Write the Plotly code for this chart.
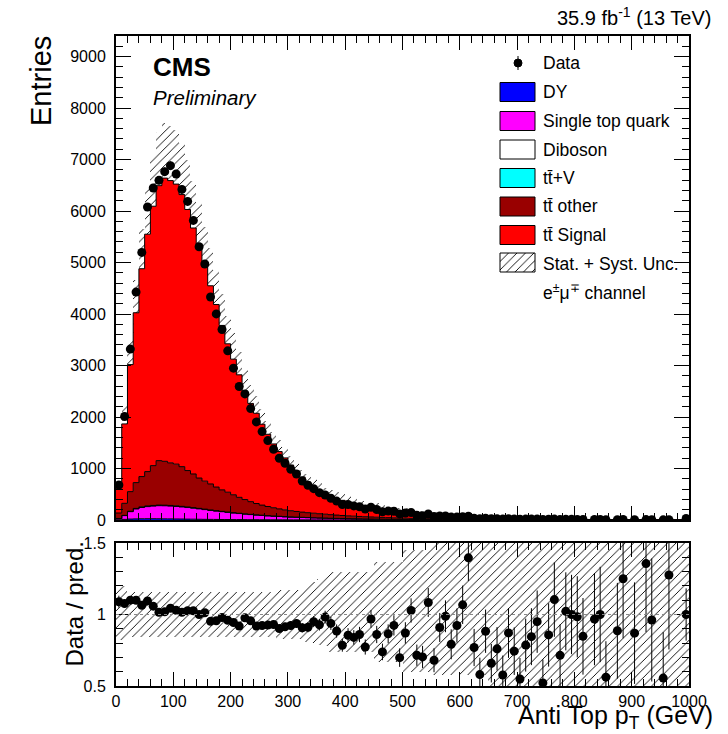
import numpy as np
import plotly.graph_objects as go

# ---------------- data (10 GeV bins, 0-1000 GeV) ----------------
bin_edges = np.arange(0, 1010, 10)

data = [680, 2010, 3320, 4427, 5197, 6078, 6448, 6597, 6765, 6882,
        6720, 6421, 6188, 5818, 5307, 4971, 4332, 4002, 3700, 3285,
        2949, 2592, 2449, 2164, 1905, 1717, 1542, 1374, 1199, 1102,
        986, 894, 758, 674, 608, 531, 486, 422, 367, 300,
        301, 273, 258, 214, 248, 203, 161, 173, 170, 118,
        135, 146, 93, 83, 116, 66, 80, 79, 57, 60,
        63, 74, 35, 24, 34, 24, 25, 18, 25, 20,
        14, 18, 18, 19, 10, 15, 18, 11, 14, 13,
        12, 10, 0, 9, 9, 5, 0, 7, 9, 0,
        6, 0, 8, 5, 0, 3, 6, 0, 0, 30]

tt_signal = [488, 1542, 2467, 3299, 4037, 4611, 5038, 5340, 5500, 5482,
             5439, 5284, 5071, 4777, 4492, 4157, 3849, 3546, 3194, 2882,
             2634, 2380, 2110, 1908, 1753, 1571, 1403, 1239, 1113, 1009,
             888, 788, 683, 598, 508, 450, 382, 346.3, 319.6, 294.2,
             270.9, 250.2, 231.0, 213.3, 197.0, 181.8, 167.8, 154.0, 141.7, 130.1,
             119.3, 109.4, 100.1, 90.8, 82.4, 74.7, 67.7, 61.6, 55.4, 49.9,
             45.4, 40.7, 35.1, 31.9, 29.6, 28.2, 25.4, 24.1, 22.2, 20.7,
             19.6, 17.7, 16.4, 15.4, 14.7, 13.4, 12.6, 11.9, 10.6, 10.0,
             9.5, 9.2, 8.4, 7.3, 7.0, 6.9, 6.4, 6.2, 5.6, 5.3,
             5.3, 5.0, 4.6, 4.1, 3.9, 4.2, 3.7, 3.5, 3.3, 23.1]

tt_other = [106, 234, 381, 501, 588, 668, 773, 863, 852, 827,
            810, 771, 707, 654, 589, 544, 504, 458, 417, 385,
            347, 309, 277, 246, 219, 196, 177, 160, 144, 131,
            119, 110, 101, 94, 88, 81, 75, 69.8, 64.3, 59.2,
            54.6, 50.4, 46.5, 42.9, 39.7, 36.6, 33.8, 31.0, 28.5, 26.2,
            24.0, 22.0, 20.2, 18.3, 16.6, 15.0, 13.6, 12.4, 11.2, 10.1,
            9.1, 8.2, 7.1, 6.4, 6.0, 5.6, 5.1, 4.8, 4.4, 4.2,
            4.0, 3.5, 3.3, 3.1, 3.0, 2.7, 2.5, 2.4, 2.1, 2.0,
            1.9, 1.8, 1.7, 1.4, 1.4, 1.4, 1.3, 1.2, 1.1, 1.1,
            1.1, 1.0, 0.9, 0.8, 0.8, 0.8, 0.7, 0.7, 0.7, 4.7]

single_top = [23, 73, 144, 193, 220, 235, 246, 254, 253, 249,
              244, 235, 225, 214, 203, 189, 175, 163, 151, 139,
              128, 117, 107, 99, 90, 83, 76, 70, 64, 58,
              54, 50, 46, 43, 40, 37, 34, 30.2, 27.8, 25.6,
              23.6, 21.8, 20.1, 18.6, 17.2, 15.8, 14.6, 13.4, 12.3, 11.3,
              10.4, 9.5, 8.7, 7.9, 7.2, 6.5, 5.9, 5.4, 4.8, 4.4,
              4.0, 3.6, 3.0, 2.8, 2.6, 2.4, 2.2, 2.1, 1.9, 1.8,
              1.7, 1.5, 1.4, 1.3, 1.3, 1.2, 1.1, 1.0, 0.9, 0.9,
              0.8, 0.8, 0.7, 0.6, 0.6, 0.6, 0.6, 0.5, 0.5, 0.5,
              0.5, 0.4, 0.4, 0.3, 0.3, 0.4, 0.3, 0.3, 0.3, 2.0]

dy = [5, 12, 18, 22, 24, 25, 25, 24, 23, 22,
      20, 19, 17, 16, 14, 13, 12, 11, 10, 9,
      8, 8, 7, 6, 6, 5, 5, 4, 4, 4,
      3, 3, 3, 3, 2, 2, 2, 1.8, 1.7, 1.5,
      1.4, 1.3, 1.2, 1.1, 1.0, 0.9, 0.9, 0.8, 0.7, 0.7,
      0.6, 0.6, 0.5, 0.5, 0.4, 0.4, 0.4, 0.3, 0.3, 0.3,
      0.2, 0.2, 0.2, 0.2, 0.2, 0.1, 0.1, 0.1, 0.1, 0.1,
      0.1, 0.1, 0.1, 0.1, 0.1, 0.1, 0.1, 0.1, 0.1, 0.1,
      0, 0, 0, 0, 0, 0, 0, 0, 0, 0,
      0, 0, 0, 0, 0, 0, 0, 0, 0, 0.1]

diboson = [1, 3, 5, 6, 7, 7, 7, 7, 7, 7,
           6, 6, 6, 6, 5, 5, 5, 4, 4, 4,
           4, 3, 3, 3, 3, 3, 2, 2, 2, 2,
           2, 2, 2, 1, 1, 1, 1, 0.5, 0.4, 0.4,
           0.4, 0.3, 0.3, 0.3, 0.3, 0.2, 0.2, 0.2, 0.2, 0.2,
           0.2, 0.1, 0.1, 0.1, 0.1, 0.1, 0.1, 0.1, 0.1, 0.1,
           0.1, 0.1, 0, 0, 0, 0, 0, 0, 0, 0,
           0, 0, 0, 0, 0, 0, 0, 0, 0, 0,
           0, 0, 0, 0, 0, 0, 0, 0, 0, 0,
           0, 0, 0, 0, 0, 0, 0, 0, 0, 0]

ttv = [1, 2, 3, 4, 4, 5, 5, 5, 5, 5,
       5, 5, 5, 4, 4, 4, 4, 4, 3, 3,
       3, 3, 3, 2, 2, 2, 2, 2, 2, 2,
       2, 1, 1, 1, 1, 1, 1, 1.4, 1.2, 1.1,
       1.1, 1.0, 0.9, 0.8, 0.8, 0.7, 0.7, 0.6, 0.6, 0.5,
       0.5, 0.4, 0.4, 0.4, 0.3, 0.3, 0.3, 0.2, 0.2, 0.2,
       0.2, 0.2, 0.1, 0.1, 0.1, 0.1, 0.1, 0.1, 0.1, 0.1,
       0.1, 0.1, 0.1, 0.1, 0.1, 0.1, 0, 0, 0, 0,
       0, 0, 0, 0, 0, 0, 0, 0, 0, 0,
       0, 0, 0, 0, 0, 0, 0, 0, 0, 0.1]

# relative stat.+syst. uncertainty (up / down)
unc_up = ([0.20] * 2 + [0.16] * 8 + [0.16] * 18 + [0.17] * 5 +
          [0.21, 0.23, 0.25, 0.27] + [0.30] * 8 + [0.37] * 5 +
          [0.45] * 5 + [0.55] * 5 + [0.70] * 40)
unc_dn = ([0.18] * 2 + [0.155] * 8 + [0.16] * 18 + [0.17] * 5 +
          [0.19, 0.20, 0.21, 0.22] + [0.26] * 8 + [0.33] * 5 +
          [0.40] * 5 + [0.42] * 10 + [0.55] * 35)

x_ticks = [0, 100, 200, 300, 400, 500, 600, 700, 800, 900, 1000]

# ---------------- figure ----------------
W, H = 728, 734
FONT = "Liberation Sans, Arial, Helvetica, sans-serif"


def px(x):
    return x / W


def py(y):
    return 1 - y / H


centers = 0.5 * (bin_edges[:-1] + bin_edges[1:])
fig = go.Figure()

components = [(dy, "#0000ff"), (single_top, "#ff00ff"), (diboson, "#ffffff"),
              (ttv, "#00ffff"), (tt_other, "#990000"), (tt_signal, "#ff0000")]
cum = np.zeros(len(centers))
for i, (vals, col) in enumerate(components):
    cum = cum + np.array(vals, dtype=float)
    fig.add_trace(go.Scatter(
        x=bin_edges, y=np.append(cum, cum[-1]), mode="lines",
        line=dict(shape="hv", color="black", width=1),
        fill="tozeroy" if i == 0 else "tonexty", fillcolor=col,
        xaxis="x", yaxis="y", showlegend=False, hoverinfo="skip"))
total = cum
up = np.array(unc_up)
dn = np.array(unc_dn)

hatch = dict(color="rgba(0,0,0,0)", line=dict(width=0),
             pattern=dict(shape="/", fillmode="replace", fgcolor="black",
                          bgcolor="rgba(0,0,0,0)", size=6, solidity=0.15))

fig.add_trace(go.Bar(x=centers, y=total * (up + dn), base=total * (1 - dn), width=10,
                     marker=hatch, xaxis="x", yaxis="y", showlegend=False,
                     hoverinfo="skip"))

d = np.array(data, dtype=float)
mask = d > 0
fig.add_trace(go.Scatter(
    x=centers[mask], y=d[mask], mode="markers",
    marker=dict(color="black", size=9),
    error_y=dict(type="data", array=np.sqrt(d[mask]), color="black", thickness=1, width=0),
    xaxis="x", yaxis="y", showlegend=False, hoverinfo="skip"))

# ratio panel
fig.add_trace(go.Bar(x=centers, y=up + dn, base=1 - dn, width=10, marker=hatch,
                     xaxis="x2", yaxis="y2", showlegend=False, hoverinfo="skip"))
ratio = d[mask] / total[mask]
ratio_err = np.sqrt(d[mask]) / total[mask]
fig.add_trace(go.Scatter(
    x=centers[mask], y=ratio, mode="markers",
    marker=dict(color="black", size=9),
    error_y=dict(type="data", array=ratio_err, color="black", thickness=1, width=0),
    xaxis="x2", yaxis="y2", showlegend=False, hoverinfo="skip"))

# legend hatch swatch on hidden axis
fig.add_trace(go.Bar(x=[0], y=[1], width=[1], marker=hatch, xaxis="x3", yaxis="y3",
                     showlegend=False, hoverinfo="skip"))

xdom = [px(116), px(689)]
axis_common = dict(showline=True, linecolor="black", linewidth=2, mirror="allticks",
                   ticks="inside", tickcolor="black", tickwidth=1, showgrid=False,
                   zeroline=False, automargin=False,
                   tickfont=dict(family=FONT, size=16, color="black"))

fig.update_layout(
    width=W, height=H, margin=dict(l=0, r=0, t=0, b=0, pad=0), autosize=False,
    paper_bgcolor="white", plot_bgcolor="white", bargap=0, barmode="overlay",
    font=dict(family=FONT, color="black"),
    xaxis=dict(domain=xdom, range=[0, 1000], anchor="y", tickvals=x_ticks,
               showticklabels=False, ticklen=14,
               minor=dict(ticks="inside", ticklen=7, dtick=20, tickcolor="black", tickwidth=1),
               **axis_common),
    yaxis=dict(domain=[py(520), py(36)], range=[0, 9400], anchor="x", dtick=1000,
               ticklen=15, ticklabelstandoff=5,
               minor=dict(ticks="inside", ticklen=7, dtick=200, tickcolor="black", tickwidth=1),
               **axis_common),
    xaxis2=dict(domain=xdom, range=[0, 1000], anchor="y2", tickvals=x_ticks,
                ticklen=14, ticklabelstandoff=0,
                minor=dict(ticks="inside", ticklen=7, dtick=20, tickcolor="black", tickwidth=1),
                **axis_common),
    yaxis2=dict(domain=[py(686), py(543)], range=[0.5, 1.5], anchor="x2",
                tickvals=[0.5, 1, 1.5], ticktext=["0.5", "1", "1.5"], ticklen=15,
                ticklabelstandoff=5,
                minor=dict(ticks="inside", ticklen=7, dtick=0.1, tickcolor="black", tickwidth=1),
                **axis_common),
    xaxis3=dict(domain=[px(500), px(535)], range=[-0.5, 0.5], visible=False,
                anchor="y3", automargin=False),
    yaxis3=dict(domain=[py(272), py(253)], range=[0, 1], visible=False,
                anchor="x3", automargin=False),
)

shapes = [dict(type="line", xref="x2", yref="y2", x0=0, x1=1000, y0=1, y1=1,
               line=dict(color="#888888", width=1, dash="dot"))]

# legend swatches
leg_rows = [92, 121, 149.5, 178, 206.5, 235]
leg_cols = ["#0000ff", "#ff00ff", "#ffffff", "#00ffff", "#990000", "#ff0000"]
for yc, col in zip(leg_rows, leg_cols):
    shapes.append(dict(type="rect", xref="paper", yref="paper",
                       x0=px(500), x1=px(535), y0=py(yc + 9.5), y1=py(yc - 9.5),
                       fillcolor=col, line=dict(color="black", width=1)))
shapes.append(dict(type="rect", xref="paper", yref="paper",
                   x0=px(500), x1=px(535), y0=py(272), y1=py(253),
                   line=dict(color="black", width=1)))
shapes.append(dict(type="line", xref="paper", yref="paper",
                   x0=px(518), x1=px(518), y0=py(56), y1=py(70),
                   line=dict(color="black", width=1)))
shapes.append(dict(type="circle", xref="paper", yref="paper",
                   x0=px(514), x1=px(522), y0=py(67), y1=py(59),
                   fillcolor="black", line=dict(color="black", width=1)))
fig.update_layout(shapes=shapes)

ann = []
leg_texts = [(63, "Data"), (92, "DY"), (121, "Single top quark"), (149.5, "Diboson"),
             (178, "tt\u0304+V"), (206.5, "tt\u0304 other"), (235, "tt\u0304 Signal"),
             (263.5, "Stat. + Syst. Unc."), (292, "e<sup>\u00b1</sup>\u03bc<sup>\u2213</sup> channel")]
for yc, t in leg_texts:
    ann.append(dict(text=t, x=px(541), y=py(yc), xref="paper", yref="paper",
                    xanchor="left", yanchor="middle", showarrow=False,
                    font=dict(family=FONT, size=17.5, color="black")))

ann += [
    dict(text="<b>CMS</b>", x=px(151), y=py(67), xref="paper", yref="paper",
         xanchor="left", yanchor="middle", showarrow=False,
         font=dict(family=FONT, size=26, color="black")),
    dict(text="<i>Preliminary</i>", x=px(151), y=py(98), xref="paper", yref="paper",
         xanchor="left", yanchor="middle", showarrow=False,
         font=dict(family=FONT, size=20.5, color="black")),
    dict(text="35.9 fb<sup>-1</sup> (13 TeV)", x=px(713), y=py(17), xref="paper",
         yref="paper", xanchor="right", yanchor="middle", showarrow=False,
         font=dict(family=FONT, size=20, color="black")),
    dict(text="Entries", x=px(41), y=py(34), xref="paper", yref="paper", textangle=-90,
         xanchor="center", yanchor="top", showarrow=False,
         font=dict(family=FONT, size=29, color="black")),
    dict(text="Data / pred.", x=px(74), y=py(540), xref="paper", yref="paper",
         textangle=-90, xanchor="center", yanchor="top", showarrow=False,
         font=dict(family=FONT, size=24, color="black")),
    dict(text="Anti Top p<sub>T</sub> (GeV)", x=px(714), y=py(717), xref="paper",
         yref="paper", xanchor="right", yanchor="middle", showarrow=False,
         borderpad=0, font=dict(family=FONT, size=25, color="black")),
]
fig.update_layout(annotations=ann)

fig.write_html("out.html",
               post_script="document.body.style.margin='0';"
                           "document.body.style.padding='0';"
                           "document.documentElement.style.overflow='hidden';"
                           "document.body.style.overflow='hidden';")
